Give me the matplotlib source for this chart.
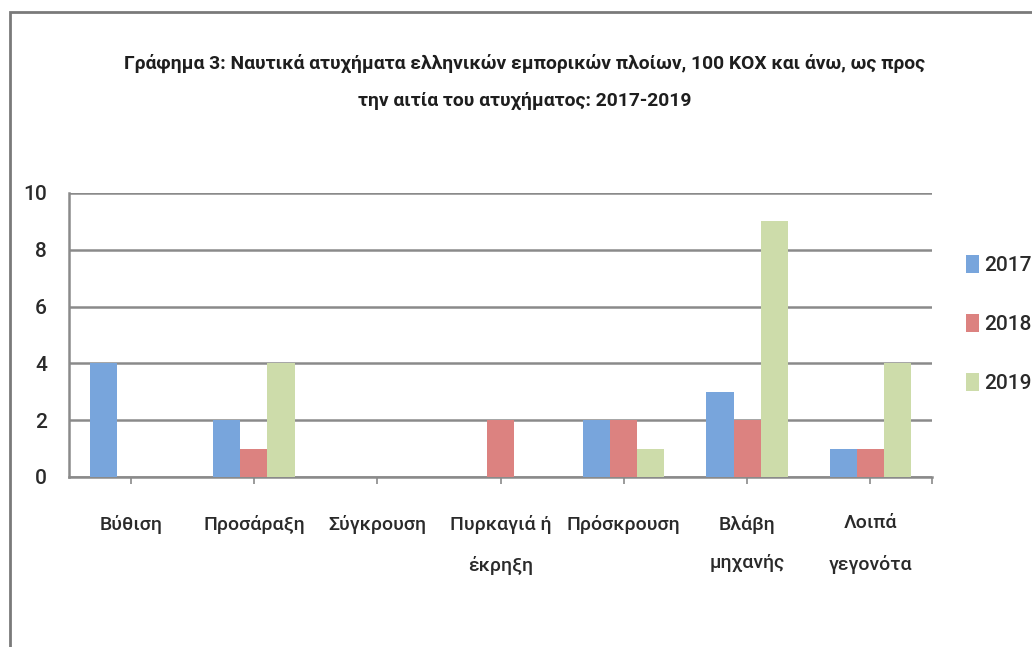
import numpy as np
import matplotlib
matplotlib.use("Agg")
import matplotlib.pyplot as plt
from matplotlib.patches import Rectangle

plt.rcParams['font.family'] = ['Roboto', 'DejaVu Sans']

# Ναυτικά ατυχήματα ανά αιτία και έτος
categories = ['Βύθιση', 'Προσάραξη', 'Σύγκρουση', 'Πυρκαγιά ή\nέκρηξη',
              'Πρόσκρουση', 'Βλάβη\nμηχανής', 'Λοιπά\nγεγονότα']
years = ['2017', '2018', '2019']
v2017 = [4, 2, 0, 0, 2, 3, 1]
v2018 = [0, 1, 0, 2, 2, 2, 1]
v2019 = [0, 4, 0, 0, 1, 9, 4]
colors = ['#78A5DC', '#DC8280', '#CDDCAA']

title = ('Γράφημα 3: Ναυτικά ατυχήματα ελληνικών εμπορικών πλοίων, 100 ΚΟΧ και άνω, ως προς\n'
         'την αιτία του ατυχήματος: 2017-2019')

W, H = 1032, 647
fig = plt.figure(figsize=(W / 100, H / 100), dpi=100)
ax = fig.add_axes([69 / W, 1 - 477 / H, (932 - 69) / W, (477 - 193) / H])

x = np.arange(len(categories))
width = 0.22
bars = []
for i, (vals, c) in enumerate(zip([v2017, v2018, v2019], colors)):
    bars.append(ax.bar(x + (i - 1) * width, vals, width, color=c, zorder=3, label=years[i]))

ax.set_xlim(-0.5, len(categories) - 0.5)
ax.set_ylim(0, 10)
ax.set_yticks(range(0, 11, 2))
ax.yaxis.grid(True, color='#8a8a8a', linewidth=1.8)
ax.set_axisbelow(True)

for s in ['top', 'right']:
    ax.spines[s].set_visible(False)
for s in ['left', 'bottom']:
    ax.spines[s].set_color('#8a8a8a')
    ax.spines[s].set_linewidth(1.8)

ax.set_xticks(x)
ax.set_xticks([len(categories) - 0.5], minor=True)
ax.set_xticklabels(categories, fontsize=14, color='#2a2a2a', fontweight='medium')
for t in ax.get_xticklabels():
    t.set_linespacing(2.5)
for t in ax.get_yticklabels():
    t.set_fontweight('medium')
ax.tick_params(axis='x', which='both', length=5, width=1.2, color='#8a8a8a', pad=22)
ax.tick_params(axis='y', length=0, pad=16, labelsize=15, labelcolor='#2a2a2a')

fig.text(525 / W, 1 - 82 / H, title, ha='center', va='center', fontsize=13.9,
         fontweight='bold', color='#1e1e1e', linespacing=2.4)

leg = ax.legend(handles=bars, loc='center left', bbox_to_anchor=(966 / W, 1 - 324 / H),
                bbox_transform=fig.transFigure, frameon=False, fontsize=15,
                handlelength=0.6, handleheight=1.0, handletextpad=0.25,
                labelspacing=1.85, borderpad=0, borderaxespad=0, labelcolor='#2a2a2a')
for t in leg.get_texts():
    t.set_fontweight('medium')

# outer frame of the chart area
fig.patches.append(Rectangle((10 / W, -0.1), 1.2, 1.1 - 12 / H, transform=fig.transFigure,
                             fill=False, edgecolor='#7a7a7a', linewidth=2))

fig.savefig('out.png', dpi=100)
